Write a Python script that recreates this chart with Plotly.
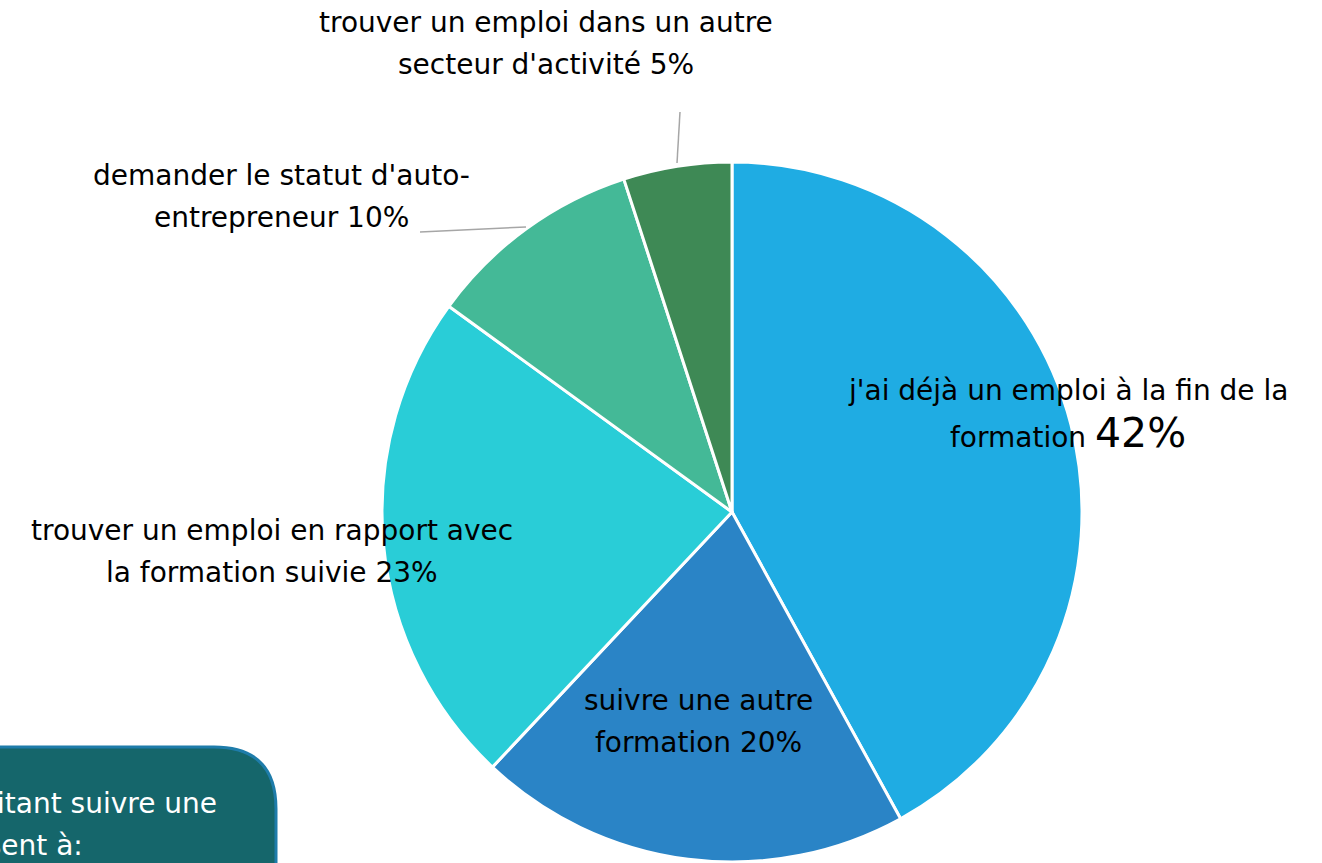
import plotly.graph_objects as go

W, H = 1322, 863

categories = [
    "j'ai déjà un emploi à la fin de la formation",
    "suivre une autre formation",
    "trouver un emploi en rapport avec la formation suivie",
    "demander le statut d'auto-entrepreneur",
    "trouver un emploi dans un autre secteur d'activité",
]
values = [42, 20, 23, 10, 5]
colors = ["#1FACE3", "#2A84C6", "#29CDD7", "#44B997", "#3E8955"]

# label lines (text split as in the reference)
label_lines = [
    ["j'ai déjà un emploi à la fin de la", "formation"],
    ["suivre une autre", "formation"],
    ["trouver un emploi en rapport avec", "la formation suivie"],
    ["demander le statut d'auto-", "entrepreneur"],
    ["trouver un emploi dans un autre", "secteur d'activité"],
]
# label centre positions in pixels (x, y of first line)
label_pos = [(1068, 391), (698, 700), (272, 530), (281, 175), (546, 22)]
line_gap = 42

FONT = "DejaVu Sans"
FS = 28

def px(x):
    return x / W

def py(y):
    return 1 - y / H

fig = go.Figure()
fig.add_trace(go.Pie(
    labels=categories,
    values=values,
    sort=False,
    direction="clockwise",
    rotation=0,
    marker=dict(colors=colors, line=dict(color="white", width=3)),
    textinfo="none",
    hoverinfo="label+percent",
    showlegend=False,
    domain=dict(x=[px(382), px(1082)], y=[py(862), py(162)]),
))

annotations = []
for i, (lines, (cx, cy)) in enumerate(zip(label_lines, label_pos)):
    pct = f"{values[i]}%"
    big = i == 0
    for j, ln in enumerate(lines):
        txt = ln
        if j == len(lines) - 1:
            if big:
                txt = f"{ln} <span style='font-size:41px'>{pct}</span>"
            else:
                txt = f"{ln} {pct}"
        annotations.append(dict(
            x=px(cx), y=py(cy + j * line_gap), xref="paper", yref="paper",
            text=txt, showarrow=False, xanchor="center", yanchor="middle",
            font=dict(family=FONT, size=FS, color="black"),
        ))

# bottom-left text box (partially cropped by the edge)
box_lines = ["Les stagiaires souhaitant suivre une", "formation pensent à:"]
annotations.append(dict(x=px(219), y=py(803), xref="paper", yref="paper",
                        text=box_lines[0], showarrow=False, xanchor="right", yanchor="middle",
                        font=dict(family=FONT, size=28, color="white")))
annotations.append(dict(x=px(85), y=py(845), xref="paper", yref="paper",
                        text=box_lines[1], showarrow=False, xanchor="right", yanchor="middle",
                        font=dict(family=FONT, size=28, color="white")))

# box path in paper coords
x0, x1, y0, y1, r = -60, 276, 747, 920, 62
path = (f"M {px(x0)},{py(y0)} L {px(x1 - r)},{py(y0)} "
        f"Q {px(x1)},{py(y0)} {px(x1)},{py(y0 + r)} "
        f"L {px(x1)},{py(y1)} L {px(x0)},{py(y1)} Z")
shapes = [
    dict(type="path", path=path, xref="paper", yref="paper",
         fillcolor="#15666B", line=dict(color="#1E7CAA", width=3), layer="below"),
    dict(type="line", xref="paper", yref="paper", x0=px(680), y0=py(112), x1=px(677), y1=py(163),
         line=dict(color="#A6A6A6", width=1.5)),
    dict(type="line", xref="paper", yref="paper", x0=px(420), y0=py(232), x1=px(526), y1=py(227),
         line=dict(color="#A6A6A6", width=1.5)),
]

fig.update_layout(
    width=W, height=H,
    margin=dict(l=0, r=0, t=0, b=0),
    paper_bgcolor="white", plot_bgcolor="white",
    annotations=annotations, shapes=shapes,
)
fig.write_html("out.html", config={"displayModeBar": False},
               post_script="document.body.style.margin='0';document.body.style.overflow='hidden';")
